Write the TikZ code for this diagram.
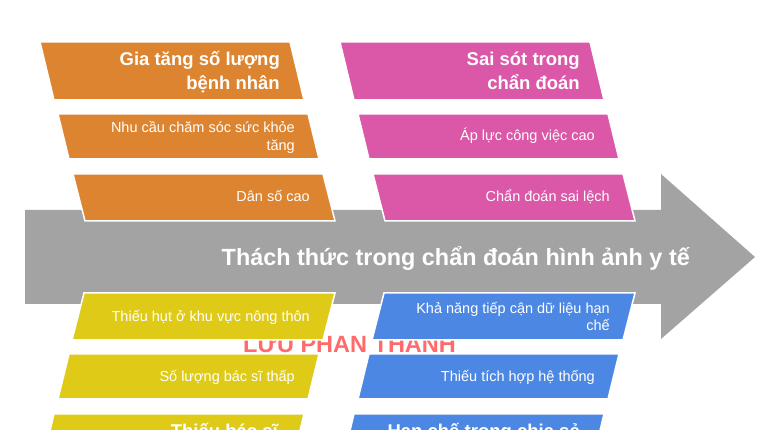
\documentclass[tikz,border=0pt]{standalone}
\usepackage{fontspec}
\setmainfont{Liberation Sans}
\definecolor{fborange}{HTML}{DD8430}
\definecolor{fbpink}{HTML}{DB57A8}
\definecolor{fbyellow}{HTML}{DFCB17}
\definecolor{fbblue}{HTML}{4C88E3}
\definecolor{fbgray}{HTML}{A3A3A3}
\definecolor{wmred}{HTML}{FF6B6B}

\begin{document}
\begin{tikzpicture}[x=1pt, y=-1pt,
    bone/.style={fill=#1, draw=white, line width=1.5pt},
    cause/.style={anchor=base east, align=right, text=white, inner sep=0pt, font=\fontsize{14.5}{17.5}\selectfont},
    group/.style={anchor=base east, align=right, text=white, inner sep=0pt, font=\fontsize{18.5}{24.5}\selectfont\bfseries}
]
\useasboundingbox (0,0) rectangle (780,430);

% Spine
\fill[fbgray] (25,210) -- (661,210) -- (661,174) -- (755,257) -- (661,339) -- (661,304) -- (25,304) -- cycle;
\node[anchor=base east, inner sep=0pt, text=white, font=\fontsize{23.4}{28}\selectfont\bfseries] (effect) at (690,266) {Thách thức trong chẩn đoán hình ảnh y tế};

% Watermark
\node[anchor=base west, inner sep=0pt, text=wmred, font=\fontsize{23.5}{28}\selectfont\bfseries] (watermark) at (243,353) {LƯU PHAN THANH};

% Orange branch
\filldraw[bone=fborange] (40,42) -- (290,42) -- (304,100) -- (54,100) -- cycle;
\filldraw[bone=fborange] (58,114) -- (308,114) -- (319,159) -- (69,159) -- cycle;
\filldraw[bone=fborange] (73,174) -- (323,174) -- (335,221) -- (85,221) -- cycle;
\node[group] (giatang) at (280,90) {Gia tăng số lượng\\bệnh nhân};
\node[cause] (nhucau) at (295,150.5) {Nhu cầu chăm sóc sức khỏe\\tăng};
\node[cause] (danso) at (310,202) {Dân số cao};

% Pink branch
\filldraw[bone=fbpink] (340,42) -- (590,42) -- (604,100) -- (354,100) -- cycle;
\filldraw[bone=fbpink] (358,114) -- (608,114) -- (619,159) -- (369,159) -- cycle;
\filldraw[bone=fbpink] (373,174) -- (623,174) -- (635,221) -- (385,221) -- cycle;
\node[group] (saisot) at (580,90) {Sai sót trong\\chẩn đoán};
\node[cause] (apluc) at (595,141) {Áp lực công việc cao};
\node[cause] (chandoan) at (610,202) {Chẩn đoán sai lệch};

% Yellow branch
\filldraw[bone=fbyellow] (84,293) -- (335,293) -- (323,340) -- (72,340) -- cycle;
\filldraw[bone=fbyellow] (69,354) -- (319,354) -- (308,399) -- (58,399) -- cycle;
\filldraw[bone=fbyellow] (54,414) -- (304,414) -- (290,472) -- (40,472) -- cycle;
\node[cause] (thieuhut) at (310,322) {Thiếu hụt ở khu vực nông thôn};
\node[cause] (soluong) at (295,382) {Số lượng bác sĩ thấp};
\node[group] (thieubs) at (278,438) {Thiếu bác sĩ};

% Blue branch
\filldraw[bone=fbblue] (384,293) -- (635,293) -- (623,340) -- (372,340) -- cycle;
\filldraw[bone=fbblue] (369,354) -- (619,354) -- (608,399) -- (358,399) -- cycle;
\filldraw[bone=fbblue] (354,414) -- (604,414) -- (590,472) -- (340,472) -- cycle;
\node[cause] (khanang) at (610,331) {Khả năng tiếp cận dữ liệu hạn\\chế};
\node[cause] (tichhop) at (595,382) {Thiếu tích hợp hệ thống};
\node[group] (chiase) at (580,438) {Hạn chế trong chia sẻ};

\end{tikzpicture}
\end{document}
